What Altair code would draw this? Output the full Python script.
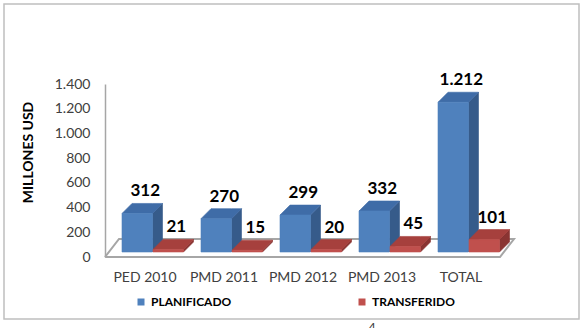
import json
import altair as alt
import pandas as pd

# ---- data -------------------------------------------------------------
categorias = ["PED 2010", "PMD 2011", "PMD 2012", "PMD 2013", "TOTAL"]
planificado = [312, 270, 299, 332, 1212]
transferido = [21, 15, 20, 45, 101]
series = ["PLANIFICADO", "TRANSFERIDO"]
y_ticks = [0, 200, 400, 600, 800, 1000, 1200, 1400]

# ---- geometry of the pseudo-3D drawing --------------------------------
W, H = 395, 173
N = len(categorias)
Y_MAX = 1400
PX_X = W / N          # pixels per category slot
PX_Y = H / Y_MAX      # pixels per value unit


def ux(px):
    return px / PX_X


def uy(px):
    return px / PX_Y


BASE_UP = 5                 # bars stand a little behind the floor front edge
DEPTH_DX, DEPTH_DY = 10, 10  # bar depth (right / up)
FLOOR_DX, FLOOR_DY = 14, 18  # floor depth
BAR_LEFT = {"PLANIFICADO": 17, "TRANSFERIDO": 48}
BAR_W = 30.5

FRONT = {"PLANIFICADO": "#4F81BD", "TRANSFERIDO": "#C0504D"}
TOP = {"PLANIFICADO": "#3F6CA7", "TRANSFERIDO": "#A6403D"}
SIDE = {"PLANIFICADO": "#365B8A", "TRANSFERIDO": "#8A3432"}

valores = {"PLANIFICADO": planificado, "TRANSFERIDO": transferido}

fronts, tops, sides, labels = [], [], [], []
base = uy(BASE_UP)
dx, dy = ux(DEPTH_DX), uy(DEPTH_DY)
for i, cat in enumerate(categorias):
    for s in series:
        v = valores[s][i]
        L = i + ux(BAR_LEFT[s])
        R = L + ux(BAR_W)
        top = base + v
        fid = f"{cat}-{s}"
        fronts.append({"x": L, "x2": R, "y": base, "y2": top, "serie": s})
        for xx, y1, y2 in [(L, top, top), (L + dx, top, top + dy),
                           (R, top, top + dy), (R + dx, top + dy, top + dy)]:
            tops.append({"x": xx, "y": y1, "y2": y2, "face": fid, "serie": s})
        for xx, y1, y2 in [(R, base, top), (R + dx, base + dy, top + dy)]:
            sides.append({"x": xx, "y": y1, "y2": y2, "face": fid, "serie": s})
        labels.append({"x": (L + R) / 2, "y": top, "v": v, "serie": s})

fronts = pd.DataFrame(fronts)
tops = pd.DataFrame(tops)
sides = pd.DataFrame(sides)
labels = pd.DataFrame(labels)

fdx, fdy = ux(FLOOR_DX), uy(FLOOR_DY)
floor = pd.DataFrame({
    "x": [0, N, N + fdx, fdx, 0],
    "y": [0, 0, fdy, fdy, 0],
    "o": [0, 1, 2, 3, 4],
})

# ---- shared scales / axes ---------------------------------------------
FONT = "Lato"
x_scale = alt.Scale(domain=[0, N], nice=False, zero=False)
y_scale = alt.Scale(domain=[0, Y_MAX], nice=False)

x_axis = alt.Axis(
    values=[i + 0.5 for i in range(N)],
    labelExpr=f"{json.dumps(categorias)}[floor(datum.value)]",
    domain=False, ticks=False, grid=False,
    labelPadding=13, labelFont=FONT, labelFontSize=14, labelColor="#404040",
)
y_axis = alt.Axis(
    values=y_ticks,
    labelExpr="replace(format(datum.value, ','), ',', '.')",
    grid=False, ticks=False,
    domainColor="#a6a6a6", domainWidth=1.5,
    labelPadding=15, labelFont=FONT, labelFontSize=14, labelColor="#404040",
    title="MILLONES USD", titleFont=FONT, titleFontSize=14,
    titleFontWeight="bold", titleColor="black",
    titleX=-70, titleY=68,
)


def X(field="x"):
    return alt.X(f"{field}:Q", scale=x_scale, axis=x_axis, title=None)


def Y():
    return alt.Y("y:Q", scale=y_scale, axis=y_axis, title="MILLONES USD")


# ---- layers -----------------------------------------------------------
floor_layer = alt.Chart(floor).mark_line(
    color="#a6a6a6", strokeWidth=2
).encode(x=X(), y=Y(), order="o:Q")

side_layers = [
    alt.Chart(sides).transform_filter(alt.datum.serie == s).mark_area(
        color=SIDE[s], stroke=SIDE[s], strokeWidth=0.6
    ).encode(x=X(), y=Y(), y2="y2:Q", detail="face:N")
    for s in series
]
top_layers = [
    alt.Chart(tops).transform_filter(alt.datum.serie == s).mark_area(
        color=TOP[s], stroke=TOP[s], strokeWidth=0.6
    ).encode(x=X(), y=Y(), y2="y2:Q", detail="face:N")
    for s in series
]

serie_scale = alt.Scale(domain=series, range=[FRONT[s] for s in series])
front_layer = alt.Chart(fronts).mark_rect(strokeWidth=0.6).encode(
    x=X(), x2="x2:Q", y=Y(), y2="y2:Q",
    color=alt.Color(
        "serie:N",
        scale=serie_scale,
        legend=alt.Legend(
            title=None, orient="none", direction="horizontal",
            legendX=30, legendY=212,
            symbolType="square", symbolSize=49, symbolStrokeWidth=0,
            labelFont=FONT, labelFontSize=12, labelFontWeight="bold",
            labelColor="black", labelOffset=4, columnPadding=124,
        ),
    ),
    stroke=alt.Color("serie:N", scale=serie_scale, legend=None),
)

label_layer = alt.Chart(labels).transform_calculate(
    txt="replace(format(datum.v, ','), ',', '.')"
).mark_text(
    font=FONT, fontSize=17, fontWeight="bold", color="black",
    dx=8, dy=-22, baseline="middle", align="center",
).encode(x=X(), y=Y(), text="txt:N")

frame = alt.Chart(pd.DataFrame({"k": [0]})).mark_rect(
    filled=False, stroke="#bfbfbf", strokeWidth=1.5
).encode(
    x=alt.value(-101), x2=alt.value(474),
    y=alt.value(-80), y2=alt.value(235),
)

# page number peeking in below the chart frame
page_no = alt.Chart(pd.DataFrame({"t": ["4"]})).mark_text(
    font=FONT, fontSize=13, color="#404040", baseline="top"
).encode(x=alt.value(267), y=alt.value(239), text="t:N")

chart = alt.layer(
    frame, floor_layer, *side_layers, *top_layers, front_layer, label_layer, page_no
).properties(
    width=W, height=H,
    autosize=alt.AutoSizeParams(type="none"),
    padding={"left": 105, "top": 84, "right": 82, "bottom": 71},
    background="white",
).configure_view(stroke=None)

chart.save("out.html", embed_options={"renderer": "svg", "actions": False})
